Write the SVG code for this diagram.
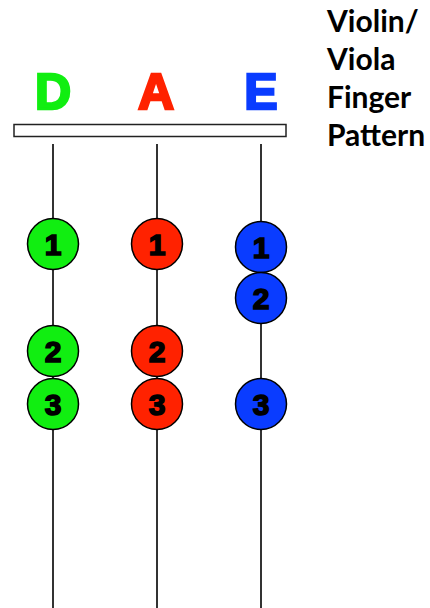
<svg xmlns="http://www.w3.org/2000/svg" width="430" height="608" viewBox="0 0 430 608">
<style>
.str{stroke:#333;stroke-width:2}
.dot{stroke:#000;stroke-width:1.5}
.g{fill:#11ee11}
.r{fill:#ff2200}
.b{fill:#0a3cff}
.num{font-family:"Liberation Sans",Arial,sans-serif;font-weight:bold;font-size:30px;fill:#000;stroke:#000;stroke-width:1.6;text-anchor:middle}
.lbl{font-family:"Liberation Sans",Arial,sans-serif;font-weight:bold;font-size:50px;text-anchor:middle;stroke-width:2.5}
.title{font-family:Lato,"Liberation Sans",sans-serif;font-weight:bold;font-size:30px;fill:#000}
</style>
<rect width="430" height="608" fill="#fff"/>
<g id="title">
<text class="title" x="327" y="32">Violin/</text>
<text class="title" x="327" y="70">Viola</text>
<text class="title" x="327" y="108">Finger</text>
<text class="title" x="327" y="146">Pattern</text>
</g>
<g id="labels">
<text class="lbl" x="53" y="109" fill="#11ee11" stroke="#11ee11">D</text>
<text class="lbl" x="156" y="109" fill="#ff2200" stroke="#ff2200">A</text>
<text class="lbl" x="261" y="109" fill="#0a3cff" stroke="#0a3cff">E</text>
</g>
<g id="nut"><rect x="14" y="124.5" width="272" height="12" fill="#fff" stroke="#222" stroke-width="1.5"/></g>
<g id="connectors">
<line class="str" x1="53" y1="144" x2="53" y2="608"/>
<line class="str" x1="157" y1="144" x2="157" y2="608"/>
<line class="str" x1="261" y1="144" x2="261" y2="608"/>
</g>
<g id="D1"><circle class="dot g" cx="53" cy="244" r="25.5"/><text class="num" x="53" y="255">1</text></g>
<g id="D2"><circle class="dot g" cx="53" cy="351" r="25.5"/><text class="num" x="53" y="362">2</text></g>
<g id="D3"><circle class="dot g" cx="53" cy="404" r="25.5"/><text class="num" x="53" y="415">3</text></g>
<g id="A1"><circle class="dot r" cx="157" cy="244" r="25.5"/><text class="num" x="157" y="255">1</text></g>
<g id="A2"><circle class="dot r" cx="157" cy="351" r="25.5"/><text class="num" x="157" y="362">2</text></g>
<g id="A3"><circle class="dot r" cx="157" cy="404" r="25.5"/><text class="num" x="157" y="415">3</text></g>
<g id="E1"><circle class="dot b" cx="261" cy="247" r="25.5"/><text class="num" x="261" y="258">1</text></g>
<g id="E2"><circle class="dot b" cx="261" cy="298" r="25.5"/><text class="num" x="261" y="309">2</text></g>
<g id="E3"><circle class="dot b" cx="261" cy="404" r="25.5"/><text class="num" x="261" y="415">3</text></g>
</svg>
